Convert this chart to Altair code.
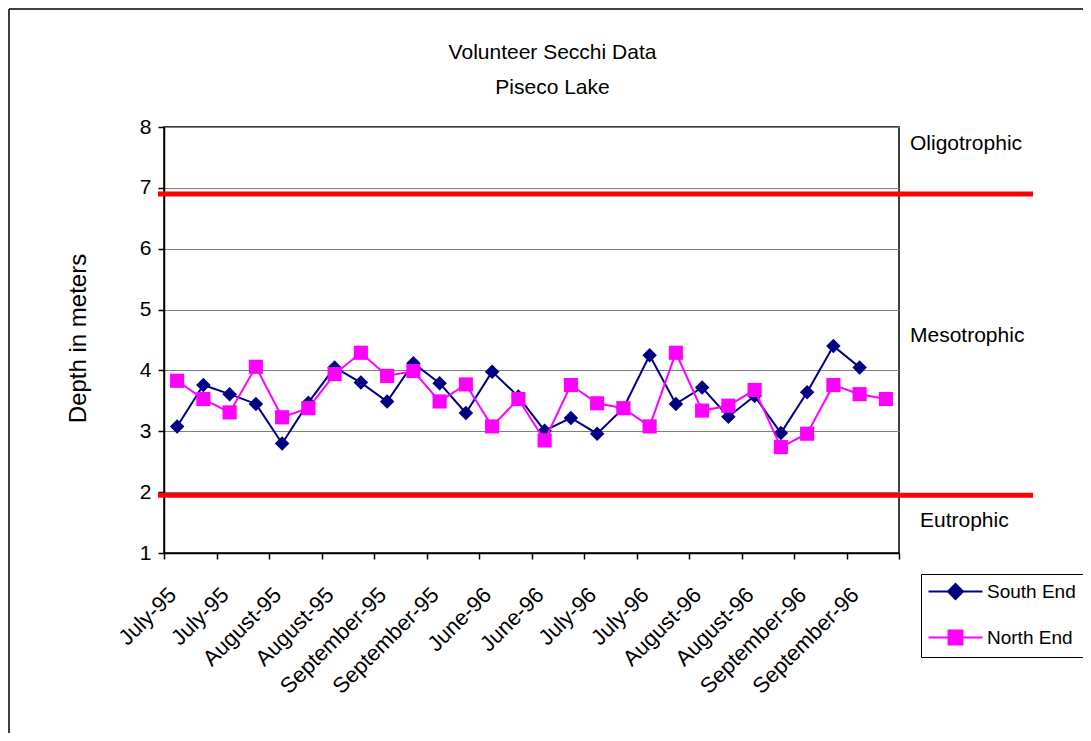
import altair as alt
import pandas as pd

FONT = "Liberation Sans"

# ---- data ----
tick_labels = ["July-95", "July-95", "August-95", "August-95", "September-95", "September-95",
               "June-96", "June-96", "July-96", "July-96", "August-96", "August-96",
               "September-96", "September-96"]
south_end = [3.08, 3.76, 3.61, 3.45, 2.80, 3.47, 4.05, 3.80, 3.49, 4.12, 3.79, 3.30, 3.98, 3.57,
             3.01, 3.22, 2.96, 3.38, 4.25, 3.45, 3.72, 3.24, 3.58, 2.97, 3.64, 4.40, 4.05, None]
north_end = [3.83, 3.53, 3.31, 4.06, 3.23, 3.38, 3.94, 4.29, 3.91, 3.99, 3.49, 3.77, 3.08, 3.53,
             2.85, 3.76, 3.46, 3.38, 3.08, 4.29, 3.34, 3.42, 3.68, 2.74, 2.96, 3.76, 3.61, 3.53]
series_names = ["South End", "North End"]
series_colors = ["#000080", "#FF00FF"]
zone_bounds = [6.9, 1.95]
zone_names = ["Oligotrophic", "Mesotrophic", "Eutrophic"]
zone_label_depth = [7.72, 4.57, 1.53]
zone_label_x = [746, 746, 756]

n = len(north_end)
rows = []
for name, vals in zip(series_names, [south_end, north_end]):
    for i, v in enumerate(vals):
        if v is not None:
            rows.append({"series": name, "pos": i + 0.5, "depth": v})
df = pd.DataFrame(rows)
bounds_df = pd.DataFrame({"depth": zone_bounds})
zones_df = pd.DataFrame({"zone": zone_names, "depth": zone_label_depth, "lx": zone_label_x})
one = pd.DataFrame({"k": [0]})

W, H = 735, 426

lab_arr = "[" + ",".join("'" + s + "'" for s in tick_labels) + "]"
x_axis = alt.Axis(
    values=list(range(0, n + 1)), grid=False, title=None,
    labelAngle=-45, labelAlign="right", labelBaseline="middle",
    labelFontSize=22, labelFont=FONT, labelColor="black", labelPadding=32, labelOffset=-18,
    labelOverlap=False, labelBound=False, labelFlush=False,
    labelExpr="datum.value % 2 == 1 ? " + lab_arr + "[floor(datum.value / 2)] : ''",
    tickSize=6, tickColor="black", tickWidth=1.5,
    tickOpacity={"condition": {"test": "datum.value % 2 == 0", "value": 1}, "value": 0},
    domainColor="black", domainWidth=1.5,
)
y_axis = alt.Axis(
    values=list(range(1, 9)), title="Depth in meters",
    titleFont=FONT, titleFontSize=24, titleFontWeight="normal", titleColor="black",
    titleX=-86, titleY=211, titleAngle=-90, titleAlign="center", titleBaseline="middle",
    labelFont=FONT, labelFontSize=21, labelColor="black", labelPadding=7,
    tickSize=6, tickColor="black", tickWidth=1.5,
    domainColor="black", domainWidth=1.5,
    grid=True, gridColor="#808080", gridWidth=1,
)
xs = alt.Scale(domain=[0, n], nice=False, zero=False)
ys = alt.Scale(domain=[1, 8], nice=False, zero=False)

X = alt.X("pos:Q", scale=xs, axis=x_axis)
Y = alt.Y("depth:Q", scale=ys, axis=y_axis)

base = alt.Chart(df)

layers = []
for name, color, shape, size in zip(series_names, series_colors, ["diamond", "square"], [210, 200]):
    sub = base.transform_filter(alt.datum.series == name)
    layers.append(sub.mark_line(color=color, strokeWidth=2).encode(x=X, y=Y, order="pos:Q"))
    layers.append(sub.mark_point(shape=shape, filled=True, color=color, size=size, opacity=1)
                  .encode(x=X, y=Y))

red = alt.Chart(bounds_df).mark_rule(color="#FF0000", strokeWidth=5).encode(
    y=Y, x=alt.value(-6), x2=alt.value(W + 134),
)

zones = alt.Chart(zones_df).mark_text(
    align="left", baseline="middle", font=FONT, fontSize=21, color="black"
).encode(
    x=alt.X("lx:Q", scale=None, axis=None),
    y=Y,
    text="zone:N",
)

legend_paths = ["M-3.6,0H3.6M0,-1L1,0L0,1L-1,0Z", "M-3.6,0H3.6M-0.93,-0.93H0.93V0.93H-0.93Z"]
leg = alt.Legend(
    title=None, orient="none", legendX=757, legendY=447,
    strokeColor="black", fillColor="white", padding=8,
    labelFont=FONT, labelFontSize=19, labelColor="black", labelLimit=300,
    symbolSize=225, symbolStrokeWidth=2, symbolOffset=17, labelOffset=22, rowPadding=23,
)
legend_layer = base.transform_filter("false").mark_point(filled=True, opacity=1).encode(
    fill=alt.Fill("series:N", scale=alt.Scale(domain=series_names, range=series_colors), legend=leg),
    stroke=alt.Stroke("series:N", scale=alt.Scale(domain=series_names, range=series_colors), legend=leg),
    shape=alt.Shape("series:N", scale=alt.Scale(domain=series_names, range=legend_paths), legend=leg),
)

frame_left = alt.Chart(one).mark_rule(color="black", strokeWidth=1.5).encode(
    x=alt.value(-155), y=alt.value(-118), y2=alt.value(H + 200))
frame_top = alt.Chart(one).mark_rule(color="black", strokeWidth=1.5).encode(
    x=alt.value(-155), x2=alt.value(W + 200), y=alt.value(-118))

chart = alt.layer(
    *layers, red, zones, legend_layer, frame_left, frame_top
).properties(
    width=W, height=H,
    padding={"left": 156, "top": 119, "right": 184, "bottom": 180},
    autosize=alt.AutoSizeParams(type="none"),
    title=alt.TitleParams(
        text=["Volunteer Secchi Data", "Piseco Lake"], font=FONT, fontSize=21,
        fontWeight="normal", color="black", anchor="middle", frame="group",
        dx=21, offset=-90, lineHeight=35,
    ),
).configure(
    background="white",
    view=alt.ViewConfig(stroke="black", strokeWidth=1.5),
)

chart.save("out.html", embed_options={"renderer": "svg", "actions": False})
